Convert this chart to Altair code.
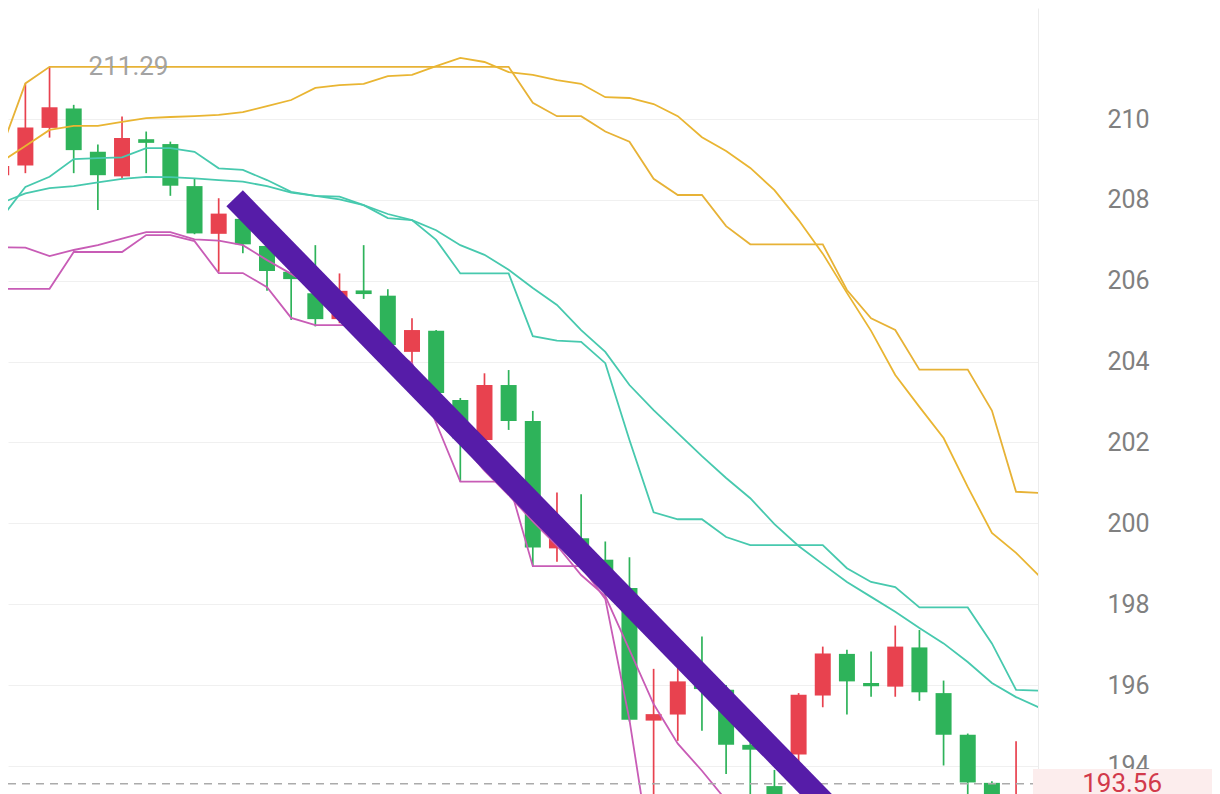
import altair as alt
import pandas as pd

# ---------------- data ----------------
opens = [208.61, 208.85, 209.78, 210.26, 209.19, 208.58, 209.50, 209.38, 208.34, 207.16,
         207.53, 206.86, 206.22, 205.69, 205.05, 205.76, 205.63, 204.24, 204.76, 203.05,
         202.06, 203.42, 202.53, 199.38, 199.63, 199.10, 198.40, 195.12, 195.27, 196.05,
         195.88, 194.52, 193.50, 194.28, 195.74, 196.77, 196.05, 195.96, 196.93, 195.80,
         194.77, 193.58, 192.90]
closes = [208.84, 209.79, 210.29, 209.23, 208.61, 209.53, 209.41, 208.35, 207.17, 207.66,
          206.90, 206.24, 206.04, 205.05, 205.75, 205.67, 204.41, 204.78, 203.22, 202.10,
          203.42, 202.53, 199.40, 199.63, 199.30, 198.60, 195.14, 195.28, 196.09, 195.90,
          194.52, 194.40, 193.20, 195.76, 196.78, 196.09, 195.97, 196.95, 195.82, 194.77,
          193.59, 193.10, 193.20]
highs = [208.92, 210.88, 211.29, 210.35, 209.37, 210.06, 209.69, 209.44, 208.52, 208.04,
         208.12, 207.35, 206.90, 206.88, 206.18, 206.88, 205.79, 205.07, 204.78, 203.10,
         203.71, 203.79, 202.78, 200.76, 200.72, 199.55, 199.16, 196.40, 196.44, 197.20,
         196.00, 194.60, 193.90, 195.80, 196.95, 196.87, 196.83, 197.47, 197.36, 196.11,
         194.80, 193.62, 194.61]
lows = [208.55, 208.66, 209.54, 208.66, 207.75, 208.53, 208.66, 208.10, 207.15, 206.22,
        206.68, 205.75, 205.03, 204.87, 204.95, 205.55, 204.34, 203.96, 202.48, 201.03,
        201.95, 202.31, 198.94, 199.05, 198.95, 198.13, 195.10, 191.30, 194.62, 194.87,
        193.80, 193.00, 192.90, 194.00, 195.45, 195.27, 195.71, 195.71, 195.61, 194.01,
        193.10, 192.90, 192.80]

upper_step = [209.25, 210.88, 211.29, 211.29, 211.29, 211.29, 211.29, 211.29, 211.29, 211.29,
              211.29, 211.29, 211.29, 211.29, 211.29, 211.29, 211.29, 211.29, 211.29, 211.29,
              211.29, 211.29, 210.40, 210.07, 210.07, 209.69, 209.44, 208.52, 208.12, 208.12,
              207.35, 206.90, 206.90, 206.90, 206.90, 205.77, 205.07, 204.78, 203.80, 203.80,
              203.80, 202.79, 200.78, 200.75]
upper_avg = [208.94, 209.33, 209.73, 209.83, 209.83, 209.93, 210.02, 210.05, 210.07, 210.10,
             210.17, 210.32, 210.47, 210.77, 210.84, 210.87, 211.06, 211.09, 211.31, 211.51,
             211.41, 211.16, 211.09, 210.96, 210.87, 210.54, 210.52, 210.37, 210.07, 209.55,
             209.21, 208.79, 208.24, 207.50, 206.67, 205.70, 204.76, 203.67, 202.88, 202.11,
             200.90, 199.76, 199.27, 198.67]
mid_step = [207.54, 208.32, 208.57, 209.01, 209.03, 209.05, 209.28, 209.28, 209.19, 208.78,
            208.74, 208.49, 208.20, 208.10, 208.08, 207.87, 207.55, 207.50, 207.01, 206.18,
            206.18, 206.18, 204.63, 204.52, 204.49, 203.96, 202.06, 200.27, 200.10, 200.10,
            199.66, 199.46, 199.46, 199.46, 199.46, 198.89, 198.55, 198.42, 197.92, 197.92,
            197.92, 197.03, 195.88, 195.86]
mid_avg = [207.92, 208.16, 208.29, 208.34, 208.43, 208.52, 208.57, 208.56, 208.53, 208.49,
           208.45, 208.34, 208.18, 208.10, 208.01, 207.87, 207.65, 207.50, 207.25, 206.88,
           206.64, 206.27, 205.82, 205.40, 204.78, 204.24, 203.42, 202.80, 202.23, 201.66,
           201.12, 200.62, 199.98, 199.44, 198.99, 198.55, 198.18, 197.81, 197.41, 197.03,
           196.57, 196.05, 195.70, 195.43]
lower_step = [205.80, 205.80, 205.80, 206.71, 206.71, 206.71, 207.13, 207.13, 206.98, 206.19,
              206.19, 205.84, 205.08, 204.90, 204.90, 204.90, 204.34, 203.96, 202.48, 201.03,
              201.03, 201.03, 198.94, 198.94, 198.94, 198.13, 195.14, 191.30, 191.30, 191.30,
              191.30, 191.30, 191.30, 191.30, 191.30, 191.30, 191.30, 191.30, 191.30, 191.30,
              191.30, 191.30, 191.30, 191.30]
lower_avg = [206.83, 206.82, 206.61, 206.76, 206.88, 207.04, 207.20, 207.20, 207.02, 206.99,
             206.88, 206.51, 206.17, 205.82, 205.47, 205.03, 204.41, 203.67, 202.53, 202.00,
             201.30, 200.70, 200.05, 199.45, 198.72, 198.20, 196.87, 195.53, 194.55, 193.88,
             193.15, 192.80, 192.50, 192.30, 192.20, 192.10, 192.00, 191.90, 191.85, 191.80,
             191.75, 191.70, 191.70, 191.70]

grid_values = [194, 196, 198, 200, 202, 204, 206, 208, 210]
peak_value = 211.29
peak_index = 2
last_price = 193.56
trend_idx = [9.66, 35.17]      # hand-drawn purple trend line (bar index, price)
trend_val = [208.04, 192.41]

# ---------------- layout constants ----------------
BAR_PX = 24.4          # pixels between candles
X0_PX = -3.9           # screen x of candle 0
PX_PER_UNIT = 40.43    # pixels per price unit
Y210_PX = 119          # screen y of price 210
PLOT_LEFT, PLOT_RIGHT, PLOT_TOP, PLOT_BOTTOM = 8, 1038, 8, 794
AXIS_W = 174

def idx_at(px):
    return (px - X0_PX) / BAR_PX

def val_at(py):
    return 210 - (py - Y210_PX) / PX_PER_UNIT

xdom = [idx_at(PLOT_LEFT), idx_at(PLOT_RIGHT)]
ydom = [val_at(PLOT_BOTTOM), val_at(PLOT_TOP)]
xs = alt.Scale(domain=xdom, nice=False, zero=False)
ys = alt.Scale(domain=ydom, nice=False, zero=False)

yaxis = alt.Axis(orient="right", values=grid_values, grid=True, gridColor="#F0F0F0",
                 gridWidth=1, ticks=False, domain=True, domainColor="#ECECEC",
                 labelPadding=90, labelAlign="center", labelBaseline="middle",
                 labelFont="Roboto", labelFontSize=25, labelColor="#808080",
                 labelFlush=False, labelOverlap=False, title=None)

# ---------------- tables ----------------
n = len(opens)
candles = pd.DataFrame({
    "idx": list(range(n)), "open": opens, "close": closes, "high": highs, "low": lows,
})
candles["dir"] = ["up" if c > o else "down" for o, c in zip(opens, closes)]
candles["top"] = candles[["open", "close"]].max(axis=1)
candles["bot"] = candles[["open", "close"]].min(axis=1)

series = {
    "lower_step": lower_step, "lower_avg": lower_avg,
    "mid_step": mid_step, "mid_avg": mid_avg,
    "upper_step": upper_step, "upper_avg": upper_avg,
}
series_colors = ["#C85CB6", "#C85CB6", "#47C9AE", "#47C9AE", "#E7B236", "#E9B532"]
rows = []
for name, vals in series.items():
    for i, v in enumerate(vals):
        rows.append({"series": name, "idx": i, "value": v})
lines_df = pd.DataFrame(rows)

dir_scale = alt.Scale(domain=["up", "down"], range=["#E8424F", "#2EB35A"])

wicks = alt.Chart(candles).mark_rule(strokeWidth=1.7, clip=True).encode(
    x=alt.X("idx:Q", scale=xs, axis=None),
    y=alt.Y("low:Q", scale=ys, axis=yaxis),
    y2="high:Q",
    color=alt.Color("dir:N", scale=dir_scale, legend=None),
)
bodies = alt.Chart(candles).mark_bar(size=16, clip=True).encode(
    x=alt.X("idx:Q", scale=xs, axis=None),
    y=alt.Y("bot:Q", scale=ys, axis=yaxis),
    y2="top:Q",
    color=alt.Color("dir:N", scale=dir_scale, legend=None),
)
lines = alt.Chart(lines_df).mark_line(strokeWidth=1.8, clip=True).encode(
    x=alt.X("idx:Q", scale=xs, axis=None),
    y=alt.Y("value:Q", scale=ys, axis=yaxis),
    stroke=alt.Stroke("series:N", scale=alt.Scale(domain=list(series.keys()), range=series_colors),
                      legend=None),
    detail="series:N",
)
price_df = pd.DataFrame({"price": [last_price]})
price_line = alt.Chart(price_df).mark_rule(strokeDash=[8, 6], strokeWidth=1.5,
                                           color="#ABABAB", clip=True).encode(
    y=alt.Y("price:Q", scale=ys, axis=yaxis),
)
trend_df = pd.DataFrame({"idx": trend_idx, "value": trend_val})
trend = alt.Chart(trend_df).mark_line(strokeWidth=23, strokeCap="butt", color="#561CA8",
                                      clip=True).encode(
    x=alt.X("idx:Q", scale=xs, axis=None),
    y=alt.Y("value:Q", scale=ys, axis=yaxis),
)
peak_df = pd.DataFrame({"idx": [peak_index], "value": [peak_value], "label": [f"{peak_value:.2f}"]})
peak = alt.Chart(peak_df).mark_text(align="left", baseline="middle", dx=39, fontSize=26,
                                    font="Roboto", color="#A3A3A3").encode(
    x=alt.X("idx:Q", scale=xs, axis=None),
    y=alt.Y("value:Q", scale=ys, axis=yaxis),
    text="label:N",
)
box_df = pd.DataFrame({
    "x1": [idx_at(PLOT_RIGHT)], "x2": [idx_at(PLOT_RIGHT + AXIS_W + 10)],
    "y1": [last_price + 0.36], "y2": [val_at(PLOT_BOTTOM + 20)],
    "xm": [idx_at(PLOT_RIGHT + 90)], "price": [last_price], "label": [f"{last_price:.2f}"],
})
box = alt.Chart(box_df).mark_rect(color="#FCEDED", opacity=1, clip=False).encode(
    x=alt.X("x1:Q", scale=xs, axis=None), x2="x2:Q",
    y=alt.Y("y1:Q", scale=ys, axis=yaxis), y2="y2:Q",
)
box_text = alt.Chart(box_df).mark_text(align="center", baseline="middle", fontSize=26,
                                       font="Roboto", color="#D23A4B", clip=False).encode(
    x=alt.X("xm:Q", scale=xs, axis=None),
    y=alt.Y("price:Q", scale=ys, axis=yaxis),
    text="label:N",
)

chart = alt.layer(wicks, bodies, lines, price_line, trend, peak, box, box_text).properties(
    width=PLOT_RIGHT - PLOT_LEFT,
    height=PLOT_BOTTOM - PLOT_TOP,
    autosize=alt.AutoSizeParams(type="none"),
    padding={"left": 0, "top": 0, "right": AXIS_W, "bottom": 0},
    background="white",
).configure_view(stroke=None)

chart.save("out.html", embed_options={"renderer": "svg", "actions": False})
